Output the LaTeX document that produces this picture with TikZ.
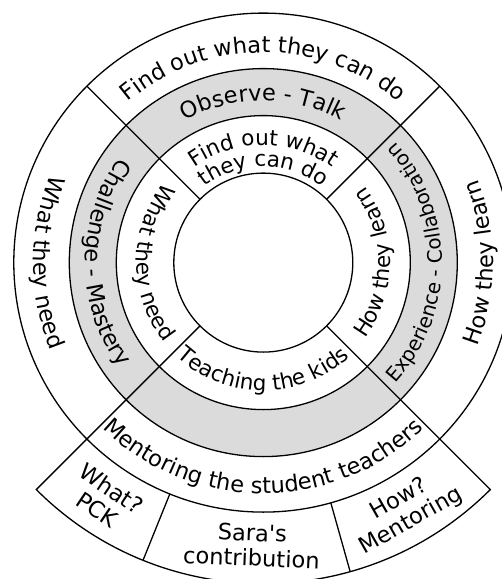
\documentclass[tikz,border=0pt]{standalone}
\usepackage{fontspec}
\setmainfont{DejaVu Sans}
\usetikzlibrary{decorations.text}
\definecolor{ringgray}{RGB}{219,219,219}
\newcommand\rfont{\fontsize{22.5pt}{25pt}\selectfont}
\newcommand\ifont{\fontsize{21.5pt}{25pt}\selectfont}
\newcommand\sfont{\fontsize{20pt}{24pt}\selectfont}
\begin{document}
\begin{tikzpicture}[x=1pt,y=1pt,
  ringline/.style={draw=black, line width=1.3pt},
  arctext/.style={decorate, decoration={text along path, text align=center, text={|\rfont|#1}}},
  innerarctext/.style={decorate, decoration={text along path, text align=center, text={|\ifont|#1}}},
  smallarctext/.style={decorate, decoration={text along path, text align=center, text={|\sfont|#1}}},
  bandlabel/.style={font=\rfont, align=center, inner sep=0pt}]
\useasboundingbox (-263.3,-316.4) rectangle (238.7,262.6);
\clip (-263.3,-316.4) rectangle (238.7,262.6);
\fill[white] (-263.3,-316.4) rectangle (238.7,262.6);
% gray ring
\fill[ringgray, even odd rule] (0,0) circle[radius=194pt] (0,0) circle[radius=147pt];
% bottom band
\draw[ringline] (-135:249.5pt) -- (-135:321pt) arc[start angle=-135, end angle=-45, radius=321pt] -- (-45:249.5pt);
\draw[ringline] (-112:249.5pt) -- (-112:321pt);
\draw[ringline] (-74.3:249.5pt) -- (-74.3:321pt);
% circles
\foreach \r in {89.5,147,194,249.5} \draw[ringline] (0,0) circle[radius=\r pt];
% radial dividers
\foreach \a in {45,135,225,315} \draw[ringline] (\a:89.5pt) -- (\a:249.5pt);
% outer ring texts
\path[arctext={Find out what they can do}] (160:210pt) arc[start angle=160, end angle=20, radius=210pt];
\path[arctext={What they need}] (120:230pt) arc[start angle=120, end angle=240, radius=230pt];
\path[arctext={How they learn}] (-60:230pt) arc[start angle=-60, end angle=60, radius=230pt];
\path[arctext={Mentoring the student teachers}] (-150:231pt) arc[start angle=-150, end angle=-30, radius=231pt];
% gray ring texts
\path[arctext={Observe - Talk}] (150:162pt) arc[start angle=150, end angle=30, radius=162pt];
\path[arctext={Challenge - Mastery}] (110:178pt) arc[start angle=110, end angle=250, radius=178pt];
\path[smallarctext={Experience - Collaboration}] (-70:179pt) arc[start angle=-70, end angle=70, radius=179pt];
% inner ring texts
\path[innerarctext={Find out what}] (160:117.5pt) arc[start angle=160, end angle=20, radius=117.5pt];
\path[innerarctext={they can do}] (160:96pt) arc[start angle=160, end angle=20, radius=96pt];
\path[innerarctext={What they need}] (120:127pt) arc[start angle=120, end angle=240, radius=127pt];
\path[innerarctext={How they learn}] (-60:127pt) arc[start angle=-60, end angle=60, radius=127pt];
\path[innerarctext={Teaching the kids}] (-150:128pt) arc[start angle=-150, end angle=-30, radius=128pt];
% bottom band labels
\node[bandlabel, rotate=-33.9] (pck) at (-123.9:285pt) {What?\\PCK};
\node[bandlabel, rotate=-2.3] (sara) at (-92.3:283pt) {Sara\textquotesingle s\\contribution};
\node[bandlabel, rotate=29.8] (mentoring) at (-60.2:285.5pt) {How?\\Mentoring};
\end{tikzpicture}
\end{document}
